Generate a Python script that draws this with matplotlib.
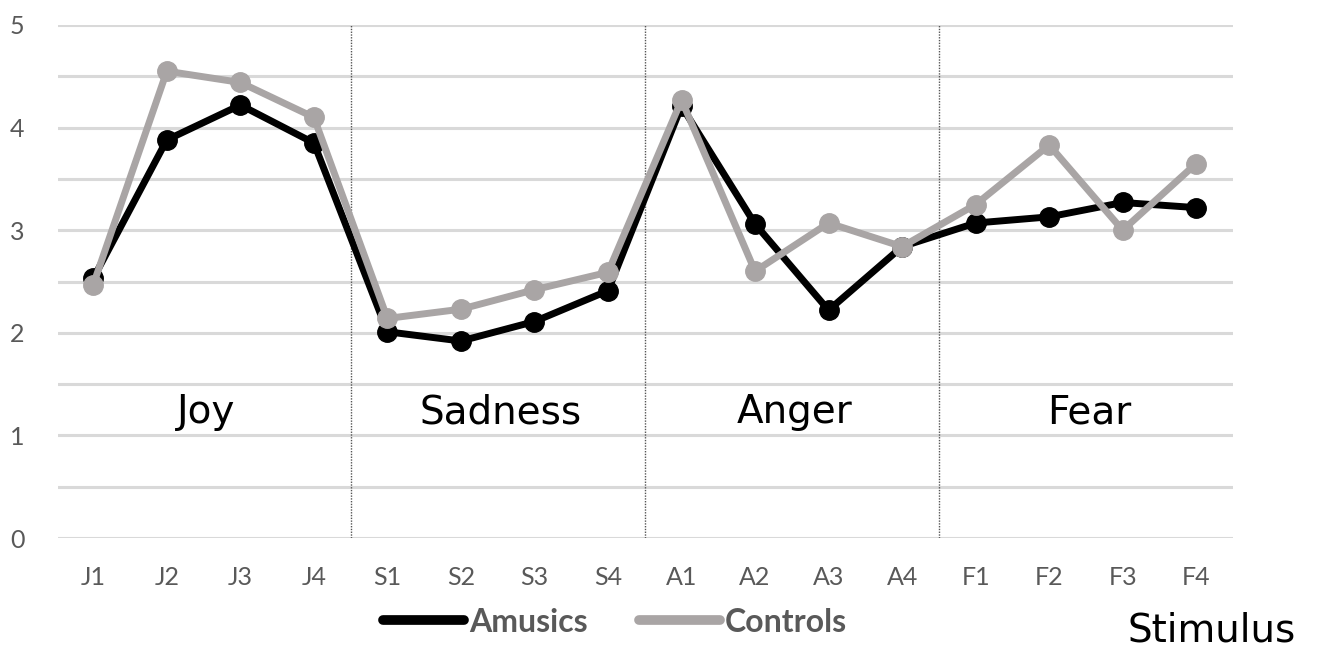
import matplotlib
matplotlib.use("Agg")
import matplotlib.pyplot as plt
from matplotlib.ticker import MultipleLocator

stimuli = ["J1", "J2", "J3", "J4", "S1", "S2", "S3", "S4",
           "A1", "A2", "A3", "A4", "F1", "F2", "F3", "F4"]
amusics = [2.53, 3.88, 4.22, 3.85, 2.01, 1.92, 2.11, 2.41,
           4.21, 3.06, 2.22, 2.84, 3.07, 3.13, 3.27, 3.22]
controls = [2.47, 4.55, 4.44, 4.10, 2.14, 2.23, 2.42, 2.59,
            4.27, 2.60, 3.07, 2.84, 3.25, 3.83, 3.00, 3.65]
emotions = ["Joy", "Sadness", "Anger", "Fear"]
group_size = 4

fig = plt.figure(figsize=(13.17, 6.47), dpi=100)
ax = fig.add_axes([58/1317, 1-538/647, (1233-58)/1317, (538-25)/647])

x = list(range(len(stimuli)))
ax.plot(x, amusics, color="black", lw=5, marker="o", ms=14,
        solid_joinstyle="round", label="Amusics", zorder=3)
ax.plot(x, controls, color="#A9A5A5", lw=5, marker="o", ms=14,
        solid_joinstyle="round", label="Controls", zorder=4)

ax.set_xlim(-0.48, len(stimuli) - 0.5)
ax.set_ylim(0, 5)
ax.yaxis.set_major_locator(MultipleLocator(1))
ax.yaxis.set_minor_locator(MultipleLocator(0.5))
ax.grid(axis="y", which="both", color="#D9D9D9", lw=2.2, zorder=0)
ax.set_axisbelow(True)
for s in ax.spines.values():
    s.set_visible(False)
ax.tick_params(axis="both", which="both", length=0)
ax.tick_params(axis="y", pad=24, labelsize=18, labelcolor="#595959")
ax.tick_params(axis="x", pad=20, labelsize=18, labelcolor="#595959")
ax.set_xticks(x)
ax.set_xticklabels(stimuli, fontfamily="Lato")
for lab in ax.get_yticklabels():
    lab.set_fontfamily("Lato")

# separators and group labels
for g in range(1, len(emotions)):
    xs = g * group_size - 0.5
    ax.plot([xs, xs], [0, 5], color="#555555", lw=1, ls=(0, (1, 1)), zorder=1)
for g, name in enumerate(emotions):
    xc = g * group_size + (group_size - 1) / 2 + 0.04
    ax.text(xc, 1.12, name, ha="center", va="baseline", fontsize=28,
            fontfamily="DejaVu Sans", color="black")

leg = fig.legend(loc="center", bbox_to_anchor=(615/1317, 1-622/647), ncol=2,
                 frameon=False, handlelength=2.55, handletextpad=0.15,
                 columnspacing=1.6, prop={"family": "Lato", "weight": "bold", "size": 23})
for h in leg.get_lines():
    h.set_marker("")
    h.set_linewidth(7)
    h.set_solid_capstyle("round")
for t in leg.get_texts():
    t.set_color("#595959")

fig.text(1128/1317, 6/647, "Stimulus", ha="left", va="baseline", fontsize=28,
         fontfamily="DejaVu Sans", color="black")

fig.savefig("out.png", dpi=100)
